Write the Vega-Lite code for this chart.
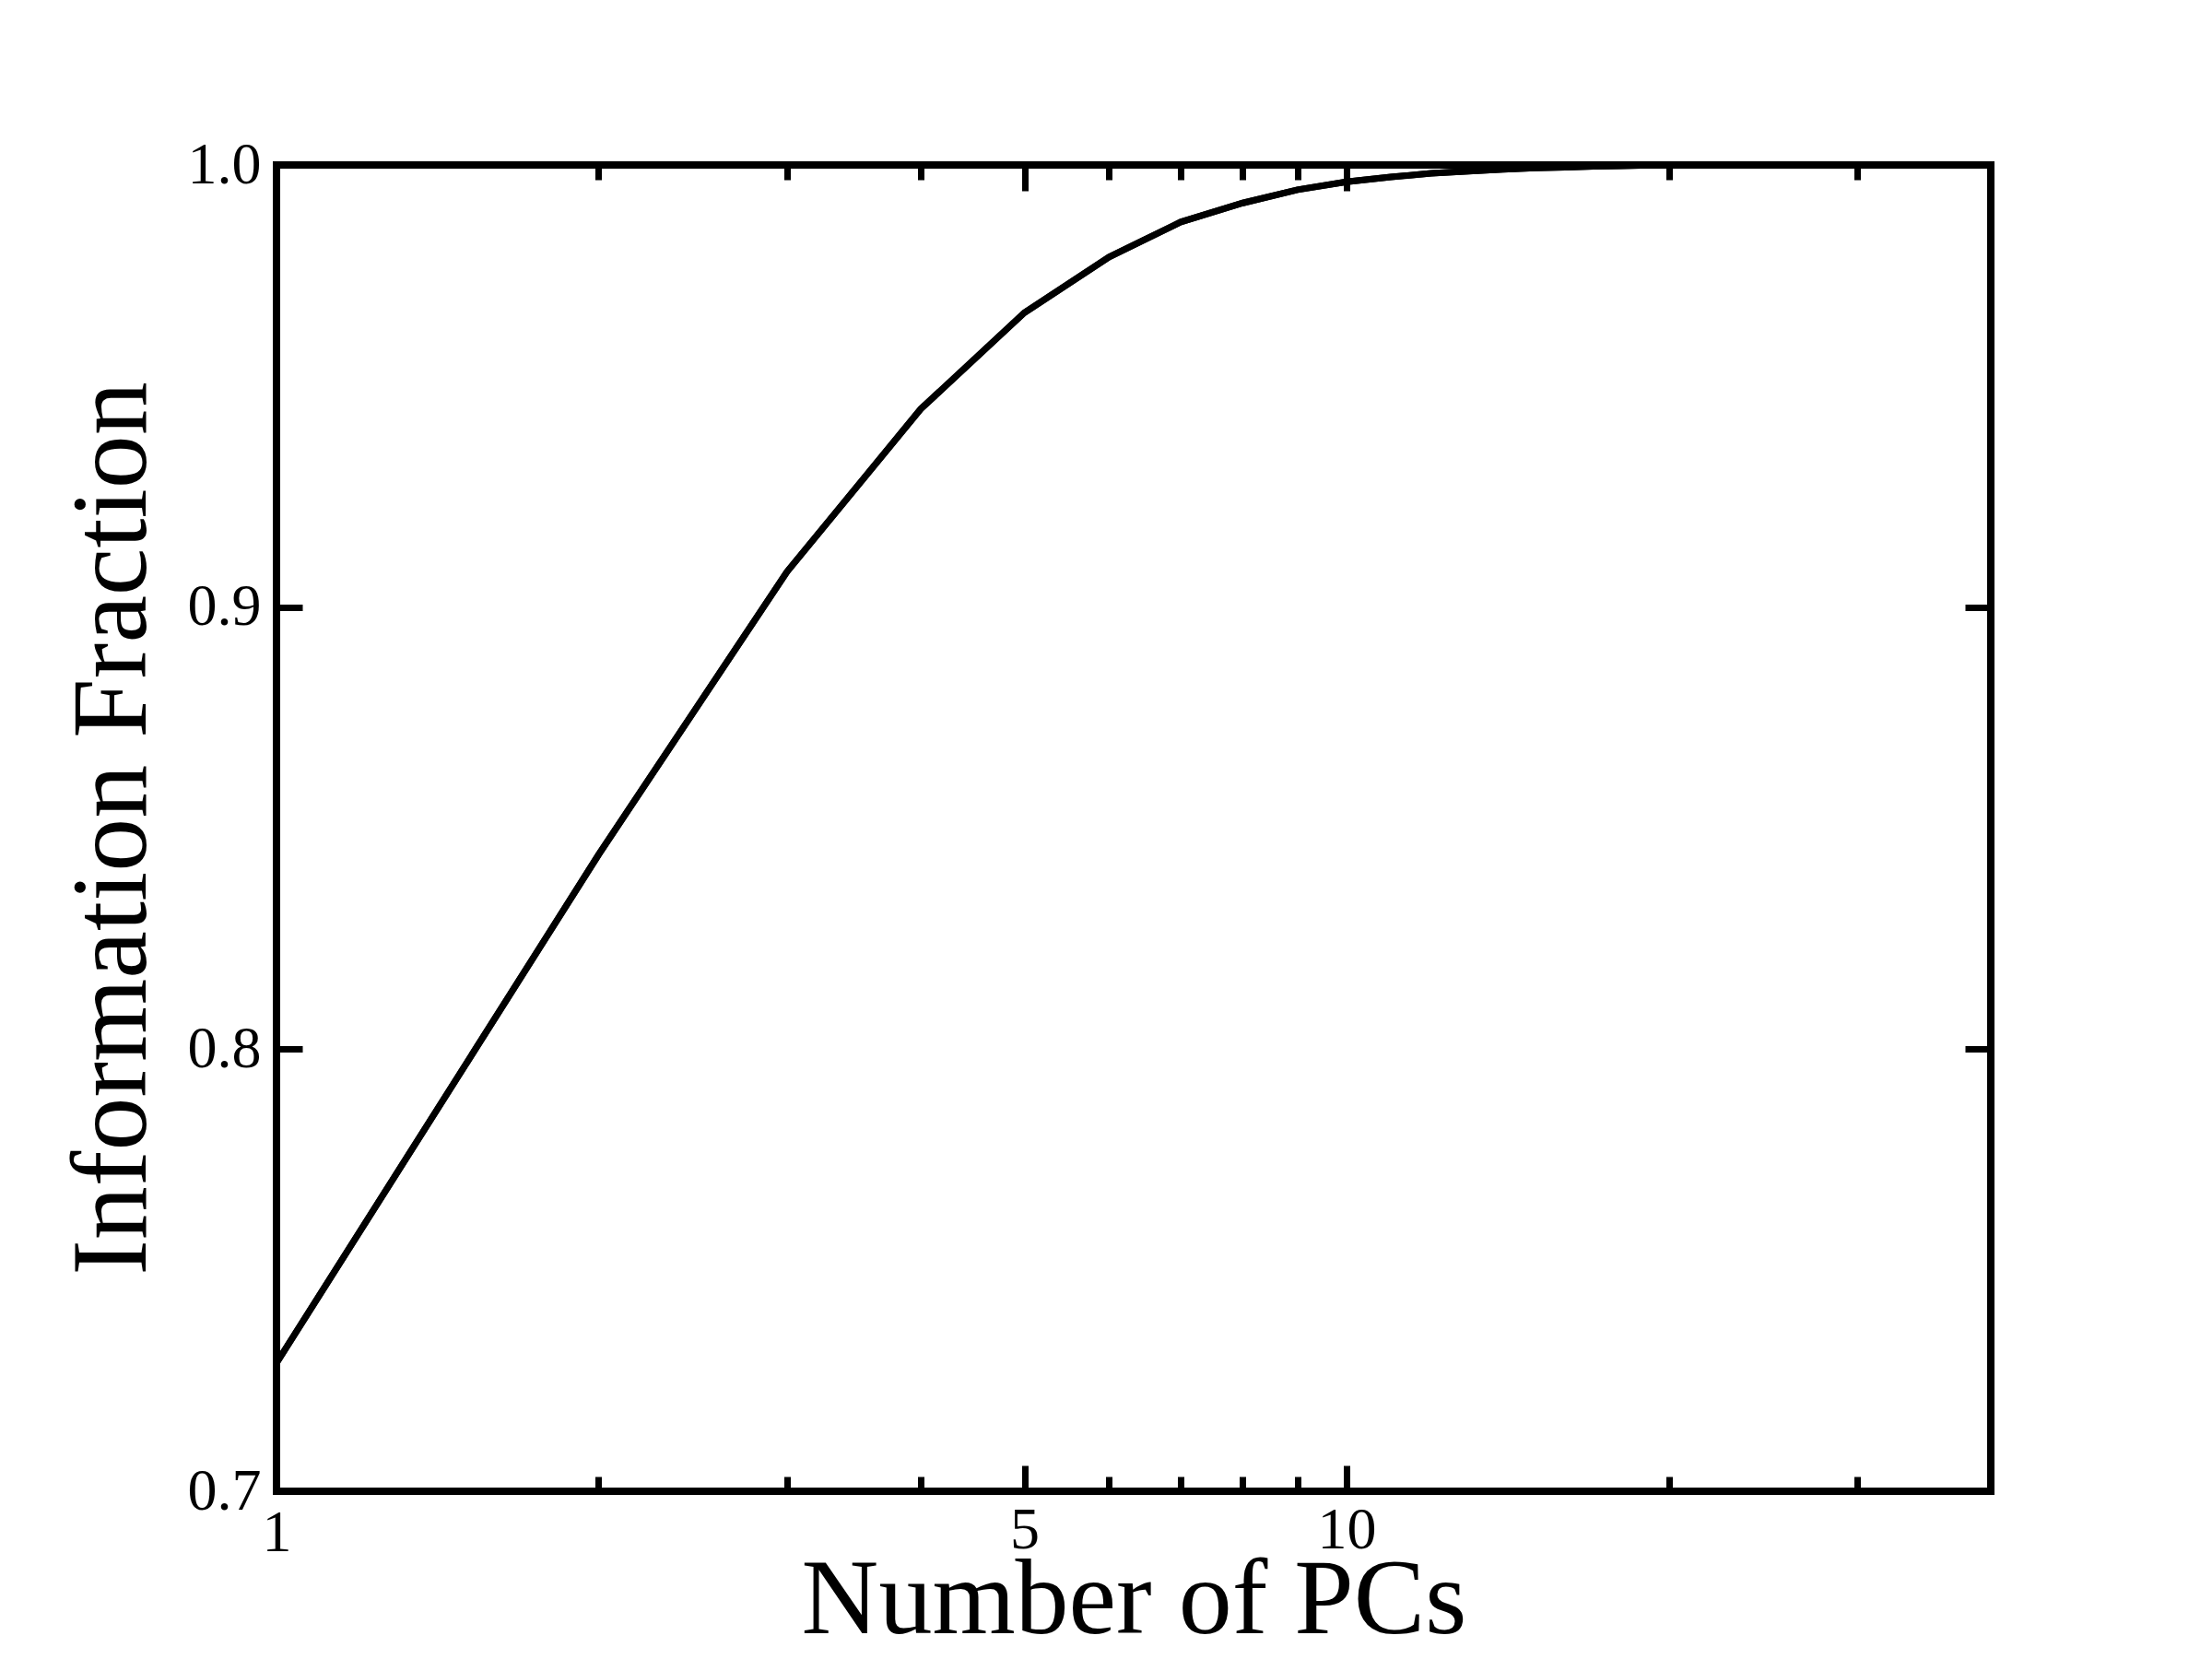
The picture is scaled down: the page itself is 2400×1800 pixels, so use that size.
{
  "$schema": "https://vega.github.io/schema/vega-lite/v6.json",
  "autosize": {"type": "none"},
  "width": 1860,
  "height": 1439,
  "padding": {"left": 300, "top": 179, "right": 240, "bottom": 182},
  "background": "white",
  "config": {
    "view": {"stroke": "black", "strokeWidth": 8},
    "font": "Liberation Serif",
    "axis": {
      "domain": false,
      "grid": false,
      "tickColor": "black",
      "tickWidth": 7,
      "labelColor": "black",
      "titleColor": "black",
      "labelFont": "Liberation Serif",
      "titleFont": "Liberation Serif",
      "labelFontSize": 64,
      "titleFontSize": 116,
      "titleFontWeight": "normal",
      "labelOverlap": false,
      "labelFlush": false
    }
  },
  "data": {
    "values": [
      {"pcs": 1, "frac": 0.729},
      {"pcs": 2, "frac": 0.844},
      {"pcs": 3, "frac": 0.908},
      {"pcs": 4, "frac": 0.9448},
      {"pcs": 5, "frac": 0.9666},
      {"pcs": 6, "frac": 0.9792},
      {"pcs": 7, "frac": 0.9871},
      {"pcs": 8, "frac": 0.9914},
      {"pcs": 9, "frac": 0.9944},
      {"pcs": 10, "frac": 0.9962},
      {"pcs": 11, "frac": 0.9973},
      {"pcs": 12, "frac": 0.9981},
      {"pcs": 13, "frac": 0.9986},
      {"pcs": 14, "frac": 0.999},
      {"pcs": 15, "frac": 0.9993},
      {"pcs": 16, "frac": 0.9995},
      {"pcs": 17, "frac": 0.9997},
      {"pcs": 18, "frac": 0.9998},
      {"pcs": 19, "frac": 0.9999},
      {"pcs": 20, "frac": 1.0}
    ]
  },
  "resolve": {"axis": {"x": "independent", "y": "independent"}},
  "layer": [
    {
      "mark": {"type": "line", "color": "black", "strokeWidth": 7, "clip": false},
      "encoding": {
        "x": {
          "field": "pcs", "type": "quantitative",
          "scale": {"type": "log", "domain": [1, 40], "nice": false},
          "axis": {
            "orient": "bottom",
            "title": "Number of PCs",
            "values": [1, 2, 3, 4, 5, 6, 7, 8, 9, 10, 20, 30],
            "format": "d",
            "labelExpr": "datum.value == 1 || datum.value == 5 || datum.value == 10 ? datum.label : ''",
            "tickSize": {"condition": {"test": "datum.value == 5 || datum.value == 10", "value": -28}, "value": -16},
            "labelPadding": {"condition": {"test": "datum.value == 5 || datum.value == 10", "value": 38}, "value": 29},
            "titlePadding": -16
          }
        },
        "y": {
          "field": "frac", "type": "quantitative",
          "scale": {"domain": [0.7, 1.0], "nice": false, "zero": false},
          "axis": {
            "orient": "left",
            "title": "Information Fraction",
            "values": [0.7, 0.8, 0.9, 1.0],
            "format": ".1f",
            "tickSize": -28,
            "labelPadding": 45,
            "titlePadding": 22
          }
        }
      }
    },
    {
      "mark": {"type": "line", "color": "black", "strokeWidth": 7, "clip": false},
      "encoding": {
        "x": {
          "field": "pcs", "type": "quantitative",
          "scale": {"type": "log", "domain": [1, 40], "nice": false},
          "axis": {
            "orient": "top",
            "title": null,
            "labels": false,
            "values": [1, 2, 3, 4, 5, 6, 7, 8, 9, 10, 20, 30],
            "tickSize": {"condition": {"test": "datum.value == 5 || datum.value == 10", "value": -28}, "value": -16}
          }
        },
        "y": {
          "field": "frac", "type": "quantitative",
          "scale": {"domain": [0.7, 1.0], "nice": false, "zero": false},
          "axis": {
            "orient": "right",
            "title": null,
            "labels": false,
            "values": [0.7, 0.8, 0.9, 1.0],
            "tickSize": -28
          }
        }
      }
    }
  ]
}
